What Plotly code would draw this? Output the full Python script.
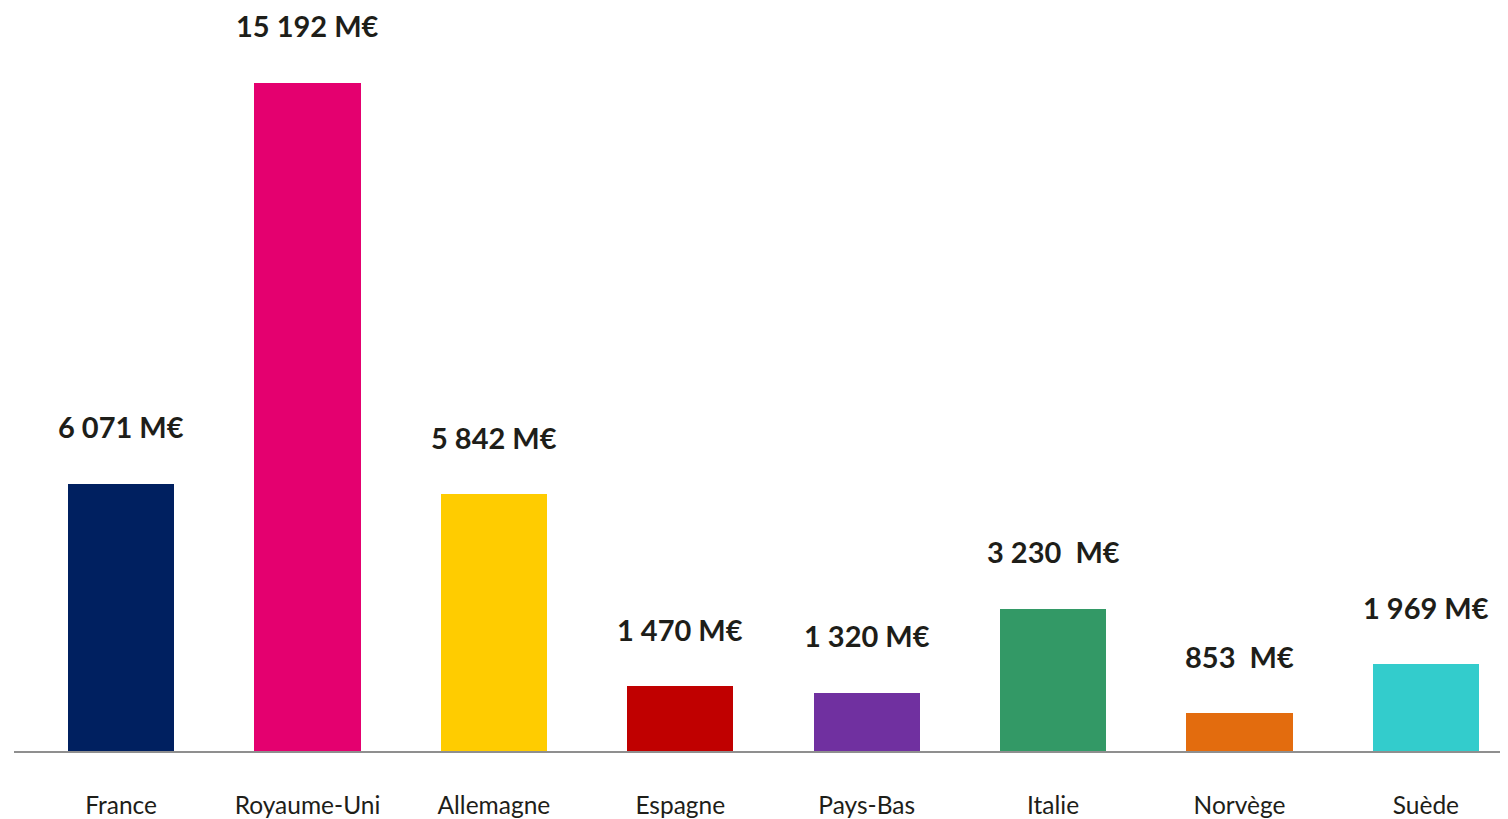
import plotly.graph_objects as go

countries = ["France", "Royaume-Uni", "Allemagne", "Espagne", "Pays-Bas", "Italie", "Norvège", "Suède"]
values = [6071, 15192, 5842, 1470, 1320, 3230, 853, 1969]
value_labels = ["6 071 M€", "15 192 M€", "5 842 M€", "1 470 M€", "1 320 M€",
                "3 230\u00a0\u00a0M€", "853\u00a0\u00a0M€", "1 969 M€"]
colors = ["#002060", "#E4006F", "#FFCC00", "#C00000", "#7030A0", "#339966", "#E36C0E", "#33CCCC"]

positions = list(range(len(countries)))

fig = go.Figure()
fig.add_trace(go.Bar(
    x=positions, y=values, marker=dict(color=colors, line=dict(width=0)),
    width=0.569, hoverinfo="skip", showlegend=False,
))

for p, v, lab in zip(positions, values, value_labels):
    fig.add_annotation(x=p, y=v, text=f"<b>{lab}</b>", showarrow=False,
                       yshift=57, font=dict(family="Lato", size=29, color="#1e1e19"))

fig.update_layout(
    width=1500, height=811,
    margin=dict(l=6, r=0, t=0, b=65),
    paper_bgcolor="white", plot_bgcolor="white",
    bargap=0,
    xaxis=dict(
        range=[-0.5746, 7.4405], tickvals=positions, ticktext=countries,
        showgrid=False, zeroline=False, showline=True, linecolor="#8f8f8f", linewidth=2,
        ticks="outside", ticklen=32, tickcolor="rgba(0,0,0,0)",
        tickfont=dict(family="Lato", size=24.5, color="#1e1e19"),
    ),
    yaxis=dict(range=[0, 16890], visible=False, showgrid=False, zeroline=False),
)

fig.write_html("out.html")
